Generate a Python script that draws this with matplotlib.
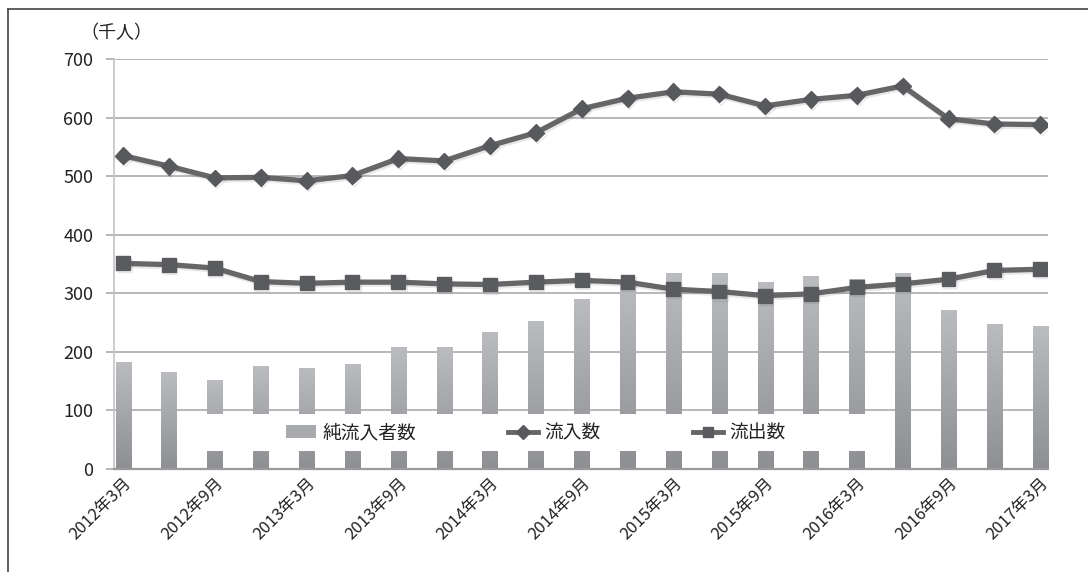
import matplotlib
matplotlib.use("Agg")
import matplotlib.pyplot as plt
import numpy as np
from matplotlib.patches import Rectangle
from matplotlib.lines import Line2D
from matplotlib.colors import LinearSegmentedColormap
import matplotlib.patheffects as pe
import matplotlib.transforms as mtransforms

plt.rcParams['font.family'] = ['Noto Sans CJK JP', 'DejaVu Sans']

categories = [f"{y}年{m}月" for y in range(2012, 2018) for m in (3, 6, 9, 12)][:21]
net_inflow = [183, 165, 152, 176, 173, 180, 208, 208, 234, 253, 290,
              322, 334, 334, 320, 330, 325, 334, 272, 247, 244]
inflow = [535, 517, 497, 498, 492, 501, 530, 526, 552, 574, 615,
          633, 644, 640, 620, 631, 638, 654, 598, 589, 588]
outflow = [351, 349, 343, 320, 317, 319, 319, 316, 315, 319, 322,
           319, 307, 303, 296, 299, 310, 316, 324, 339, 341]
yticks = [0, 100, 200, 300, 400, 500, 600, 700]
legend_labels = ["純流入者数", "流入数", "流出数"]

W, H = 1088, 572
fig = plt.figure(figsize=(W / 100, H / 100), dpi=100)
ax = fig.add_axes([114 / W, 1 - 469 / H, (1048 - 114) / W, (469 - 59) / H])

x = np.arange(len(categories))
bw = 0.33
bars = ax.bar(x, net_inflow, width=bw, color='#a6a7ab', zorder=2, linewidth=0)

# vertical gradient for bars
grad = np.linspace(0, 1, 256).reshape(-1, 1)
cmap = LinearSegmentedColormap.from_list('g', ['#8e8f93', '#bbbcc0'])
for b in bars:
    x0, y0 = b.get_x(), b.get_y()
    w, h = b.get_width(), b.get_height()
    im = ax.imshow(grad, extent=[x0, x0 + w, y0, y0 + h], origin='lower',
                   cmap=cmap, aspect='auto', zorder=2.1, interpolation='bilinear')
    im.set_clip_path(b)

shadow = [pe.SimpleLineShadow(offset=(1, -1.5), alpha=0.12, shadow_color='#444444'), pe.Normal()]
line_color = '#656668'
ax.plot(x, inflow, color=line_color, lw=3.8, marker='D', ms=8.5, mfc='#58595c',
        mec='#58595c', zorder=4, path_effects=shadow)
ax.plot(x, outflow, color=line_color, lw=3.8, marker='s', ms=10, mfc='#5a5b5e',
        mec='#5a5b5e', zorder=4, path_effects=shadow)

ax.set_xlim(-0.2, 20.17)
ax.set_ylim(0, 700)
ax.set_yticks(yticks)
ax.set_yticklabels([str(v) for v in yticks], fontsize=13, color='#222222')
ax.yaxis.grid(True, color='#a4a4a4', lw=1.1, zorder=0)
ax.set_axisbelow(True)
ax.tick_params(axis='y', length=6, color='#a4a4a4', width=1.1, pad=9)
ax.tick_params(axis='x', length=0, pad=4)
ax.set_xticks(x[::2])
ax.set_xticklabels(categories[::2], rotation=45, ha='right', rotation_mode='anchor',
                   fontsize=12, color='#222222')

for s in ['top', 'right']:
    ax.spines[s].set_visible(False)
ax.spines['left'].set_color('#c4c4c4')
ax.spines['left'].set_linewidth(1.2)
ax.spines['bottom'].set_color('#9a9a9a')
ax.spines['bottom'].set_linewidth(1.6)
ax.spines['bottom'].set_zorder(3)

# legend box (white background over bars)
trans = mtransforms.blended_transform_factory(ax.transAxes, ax.transData)
ax.add_patch(Rectangle((0.081, 30), 0.725, 64, transform=trans, facecolor='white',
                       edgecolor='none', zorder=3))
handles = [Rectangle((0, 0), 1, 1, facecolor='#a9aaae', edgecolor='none'),
           Line2D([], [], color=line_color, lw=3.5, marker='D', ms=7, mfc='#58595c', mec='#58595c'),
           Line2D([], [], color=line_color, lw=3.5, marker='s', ms=7.5, mfc='#5a5b5e', mec='#5a5b5e')]
leg = ax.legend(handles, legend_labels, ncol=3, frameon=False, fontsize=13.5,
                loc='center left', bbox_to_anchor=(0.184, 62 / 700), handlelength=1.6,
                handletextpad=0.35, columnspacing=4.9, labelcolor='#222222',
                borderpad=0, borderaxespad=0)
leg.set_zorder(5)

fig.text(80 / W, 1 - 33 / H, "（千人）", fontsize=13, va='center', ha='left', color='#222222')

# outer border (top and left)
fig.add_artist(Line2D([8 / W, 8 / W], [0, 1 - 9 / H], color='#444444', lw=1.2, transform=fig.transFigure))
fig.add_artist(Line2D([8 / W, 1], [1 - 9 / H, 1 - 9 / H], color='#444444', lw=1.2, transform=fig.transFigure))

fig.savefig("out.png", dpi=100)
